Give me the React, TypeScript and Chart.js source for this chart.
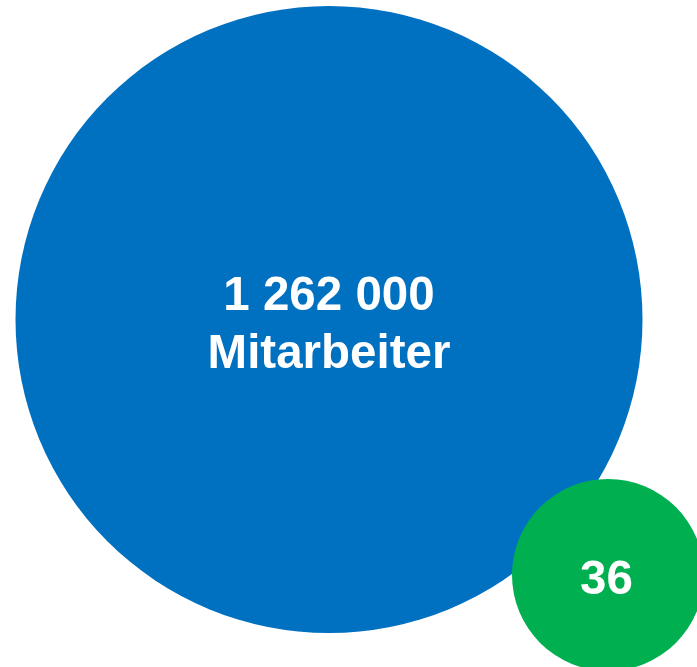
import React, { useEffect, useRef } from "react";
import { Chart, registerables } from "chart.js";

Chart.register(...registerables);

const values = [1262000, 36];
const unitLabels = ["Mitarbeiter", ""];
const bubbleX = [329, 608];
const bubbleY = [319.5, 575];
const bubbleR = [313.5, 96];
const colors = ["#0070C0", "#00B050"];

function formatNumber(v: number): string {
  return String(v).replace(/\B(?=(\d{3})+(?!\d))/g, " ");
}

const labelPlugin = {
  id: "bubbleLabels",
  afterDatasetsDraw(chart: any) {
    const ctx = chart.ctx;
    const meta = chart.getDatasetMeta(0);
    ctx.save();
    ctx.fillStyle = "#ffffff";
    ctx.textAlign = "center";
    ctx.textBaseline = "alphabetic";
    ctx.font = "bold 47.5px 'Liberation Sans', Arial, sans-serif";
    meta.data.forEach((el: any, i: number) => {
      const num = formatNumber(values[i]);
      const unit = unitLabels[i];
      if (unit) {
        ctx.fillText(num, el.x, el.y - 9.5);
        ctx.fillText(unit, el.x, el.y + 48.5);
      } else {
        ctx.fillText(num, el.x - 1.5, el.y + 19);
      }
    });
    ctx.restore();
  },
};

export default function App() {
  const ref = useRef<HTMLCanvasElement | null>(null);
  useEffect(() => {
    if (!ref.current) return;
    const chart = new Chart(ref.current, {
      type: "bubble",
      data: {
        datasets: [
          {
            data: values.map((v, i) => ({ x: bubbleX[i], y: bubbleY[i], r: bubbleR[i] })),
            backgroundColor: colors,
            borderWidth: 0,
            hoverBorderWidth: 0,
            clip: false as any,
          },
        ],
      },
      options: {
        responsive: false,
        animation: false,
        events: [],
        layout: { padding: 0, autoPadding: false },
        plugins: { legend: { display: false }, tooltip: { enabled: false } },
        scales: {
          x: { type: "linear", min: 0, max: 697, display: false },
          y: { type: "linear", min: 0, max: 667, reverse: true, display: false },
        },
      },
      plugins: [labelPlugin],
    });
    return () => chart.destroy();
  }, []);
  return (
    <div style={{ position: "fixed", left: 0, top: 0, width: 697, height: 667, background: "#ffffff" }}>
      <canvas ref={ref} width={697} height={667} style={{ width: 697, height: 667, display: "block" }} />
    </div>
  );
}
